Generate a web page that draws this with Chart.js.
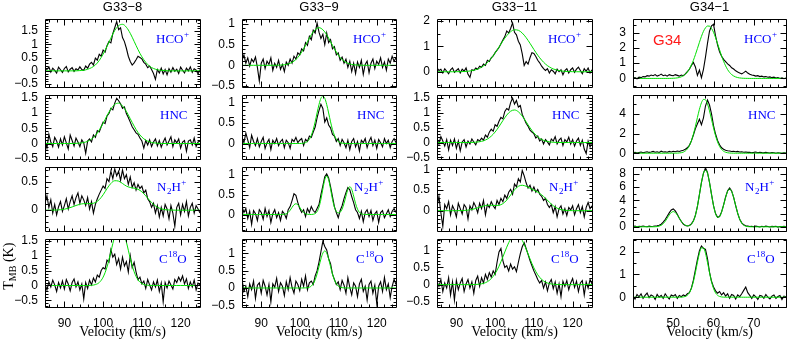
<!DOCTYPE html>
<html><head><meta charset="utf-8">
<script src="https://cdn.jsdelivr.net/npm/chart.js@4/dist/chart.umd.min.js"></script>
<style>
html,body{margin:0;padding:0;background:#fff;}
body{width:789px;height:342px;position:relative;overflow:hidden;}
canvas{position:absolute;}
</style></head><body>
<script>
// ---------------- velocity grids ----------------
const VEL_G33 = [85,85.5,86,86.5,87,87.5,88,88.5,89,89.5,90,90.5,91,91.5,92,92.5,93,93.5,94,94.5,95,95.5,96,96.5,97,97.5,98,98.5,99,99.5,100,100.5,101,101.5,102,102.5,103,103.5,104,104.5,105,105.5,106,106.5,107,107.5,108,108.5,109,109.5,110,110.5,111,111.5,112,112.5,113,113.5,114,114.5,115,115.5,116,116.5,117,117.5,118,118.5,119,119.5,120,120.5,121,121.5,122,122.5,123,123.5,124,124.5,125];
const VF_G33 = [85,86,87,88,89,90,91,92,93,94,95,96,97,98,99,100,101,102,103,104,105,106,107,108,109,110,111,112,113,114,115,116,117,118,119,120,121,122,123,124,125];
const VEL_G34 = [40,40.5,41,41.5,42,42.5,43,43.5,44,44.5,45,45.5,46,46.5,47,47.5,48,48.5,49,49.5,50,50.5,51,51.5,52,52.5,53,53.5,54,54.5,55,55.5,56,56.5,57,57.5,58,58.5,59,59.5,60,60.5,61,61.5,62,62.5,63,63.5,64,64.5,65,65.5,66,66.5,67,67.5,68,68.5,69,69.5,70,70.5,71,71.5,72,72.5,73,73.5,74,74.5,75,75.5,76,76.5,77,77.5,78];

// ---------------- tick labels ----------------
const XT_G33 = [90,100,110,120];
const XT_G34 = [50,60,70];
const YT_A = [-0.5,0,0.5,1,1.5];
const YT_B = [0,0.5];
const YT_C = [-0.5,0,0.5,1];
const YT_D = [0,0.5,1];
const YT_E = [0,1,2];
const YT_F = [0,1,2,3];
const YT_G = [0,2,4];
const YT_H = [0,2,4,6,8];

const TITLES = ['G33\u22128','G33\u22129','G33\u221211','G34\u22121'];

// ---------------- spectra (T_MB, K) ----------------
const G33_8_HCO = [0.12,0.05,0.15,-0.05,0.10,0.02,-0.08,0.14,0.04,-0.06,
 0.09,0.16,-0.04,0.06,0.12,-0.02,0.08,0.03,0.15,0.05,
 0.02,0.18,0.10,0.25,0.32,0.22,0.48,0.40,0.62,0.55,
 0.78,0.70,0.95,1.10,1.05,1.40,1.62,1.85,1.55,1.62,
 1.25,1.10,0.85,0.55,0.35,0.22,0.30,0.42,0.55,0.50,
 0.45,0.32,0.25,0.12,0.18,0.05,-0.10,-0.32,0.05,-0.08,
 0.10,-0.12,0.05,-0.15,0.08,-0.05,0.12,-0.02,0.06,-0.10,
 0.14,0.02,-0.08,0.10,0.00,0.15,-0.06,0.08,0.03,-0.12,
 0.05];
const G33_8_HNC = [0.10,-0.15,0.30,0.05,-0.10,0.20,0.08,-0.12,0.15,-0.05,
 0.22,0.02,-0.18,0.28,0.10,-0.08,0.18,0.05,-0.10,0.12,
 0.02,-0.32,0.08,0.15,0.05,0.28,0.20,0.42,0.38,0.55,
 0.70,0.65,0.90,0.98,1.15,1.10,1.32,1.48,1.40,1.30,
 1.15,1.20,0.98,0.85,0.70,0.55,0.45,0.35,0.30,0.18,
 0.08,-0.15,0.10,-0.05,0.12,-0.10,0.05,0.15,-0.08,0.10,
 -0.12,0.05,0.18,-0.05,0.08,0.22,-0.10,0.12,0.02,0.15,
 -0.15,0.05,0.10,-0.25,0.08,0.12,-0.05,0.18,-0.10,0.05,
 0.08];
const G33_8_N2H = [0.12,0.25,0.05,0.18,-0.05,0.10,-0.08,0.06,0.15,-0.02,
 0.08,0.20,0.02,0.15,0.25,0.10,0.22,0.30,0.12,0.25,
 0.18,0.08,0.22,0.02,0.15,-0.05,0.10,0.20,0.28,0.35,
 0.42,0.38,0.55,0.50,0.68,0.55,0.72,0.60,0.68,0.52,
 0.70,0.55,0.62,0.45,0.58,0.40,0.48,0.35,0.45,0.38,
 0.42,0.30,0.35,0.20,0.15,0.05,0.12,-0.05,0.08,-0.12,
 0.05,-0.10,0.10,0.02,-0.15,0.08,-0.05,-0.28,0.05,0.12,
 -0.08,0.10,-0.02,0.15,-0.10,0.05,0.12,-0.05,0.08,0.02,
 -0.05];
const G33_8_C18O = [0.05,-0.15,0.12,-0.05,0.18,0.02,-0.20,0.10,-0.08,0.15,
 -0.12,0.20,0.05,-0.18,0.10,0.22,-0.05,0.12,-0.15,0.05,
 -0.45,0.10,-0.10,0.18,0.02,0.25,0.12,0.35,0.28,0.50,
 0.60,0.55,0.85,0.78,1.20,0.95,1.05,0.70,0.90,0.55,
 0.95,0.65,0.80,0.45,1.00,0.60,0.78,0.45,0.20,0.28,
 0.05,0.15,-0.10,0.20,0.02,-0.15,0.12,-0.05,0.18,-0.20,
 0.08,-0.55,0.10,-0.08,0.15,0.02,-0.12,0.20,0.10,0.28,
 0.15,0.32,0.05,0.22,-0.10,0.12,-0.05,0.18,-0.15,0.08,
 0.02];
const G33_9_HCO = [0.12,0.25,0.05,0.18,-0.02,0.15,0.08,0.20,-0.05,-0.38,
 0.05,0.15,-0.08,0.10,0.02,0.18,-0.12,0.05,-0.05,0.12,
 -0.10,0.02,-0.15,0.08,0.00,0.15,0.05,0.22,0.15,0.30,
 0.25,0.40,0.35,0.55,0.48,0.70,0.62,0.85,0.78,1.02,
 0.80,0.65,0.75,0.50,0.78,0.55,0.62,0.40,0.45,0.25,
 0.30,0.12,0.20,0.05,0.15,-0.05,0.10,-0.15,0.05,-0.20,
 0.08,-0.05,0.12,-0.22,0.02,0.10,-0.18,0.05,0.15,-0.08,
 0.10,0.02,0.18,-0.05,0.08,-0.12,0.15,0.05,0.22,0.10,
 0.18];
const G33_9_HNC = [0.15,0.02,0.25,0.08,-0.10,0.20,0.05,-0.05,0.12,-0.08,
 0.05,0.15,-0.12,0.02,0.10,-0.15,0.08,0.00,0.12,-0.05,
 0.05,0.10,-0.10,0.08,0.02,-0.12,0.10,0.05,0.15,0.02,
 0.08,0.12,-0.05,0.10,0.05,0.18,0.15,0.28,0.40,0.62,
 0.80,0.95,0.85,0.52,0.62,0.45,0.38,0.22,0.18,0.05,
 0.12,-0.05,0.10,0.02,-0.10,0.08,-0.15,0.05,0.12,-0.08,
 0.05,-0.18,0.08,0.02,0.12,-0.10,0.05,0.15,-0.05,0.08,
 -0.12,0.10,0.02,-0.08,0.12,0.00,0.08,-0.10,0.05,0.12,
 0.02];
const G33_9_N2H = [0.20,0.05,0.15,-0.10,0.08,-0.25,0.10,0.02,-0.15,0.12,
 0.05,-0.12,0.15,-0.05,0.10,-0.20,0.02,0.12,-0.08,0.05,
 -0.15,0.08,0.02,-0.10,0.12,0.20,0.35,0.52,0.48,0.30,
 0.15,0.05,0.12,-0.05,0.15,0.05,0.20,0.10,0.05,0.15,
 0.25,0.50,0.72,0.95,1.02,0.92,0.70,0.45,0.20,0.05,
 -0.08,0.10,0.22,0.40,0.55,0.68,0.62,0.45,0.30,0.12,
 0.05,-0.10,0.08,-0.18,0.05,0.12,-0.05,0.10,-0.15,0.02,
 0.08,-0.20,0.05,0.10,-0.08,0.02,0.12,-0.05,0.08,0.15,
 0.05];
const G33_9_C18O = [0.25,-0.10,0.05,-0.25,0.12,-0.05,0.20,-0.30,0.08,0.15,
 -0.15,0.22,0.05,-0.20,0.10,-0.40,0.12,0.02,0.28,-0.10,
 0.15,0.05,-0.22,0.18,-0.05,0.30,0.02,-0.15,0.20,0.10,
 -0.08,0.25,0.05,0.35,-0.05,0.15,0.20,0.10,0.35,0.50,
 0.75,1.05,1.35,1.20,1.10,0.85,0.70,0.40,0.25,0.10,
 0.18,-0.05,0.22,0.08,-0.15,0.30,0.02,-0.20,0.15,0.05,
 -0.25,0.12,0.25,-0.10,0.05,-0.35,0.10,0.20,-0.15,0.08,
 -0.45,0.05,0.18,-0.10,0.30,-0.05,0.12,-0.28,0.05,0.25,
 0.10];
const G33_11_HCO = [0.15,0.05,0.10,-0.05,0.12,0.02,-0.08,0.08,0.15,-0.02,
 0.05,0.12,-0.05,0.10,0.02,0.15,-0.10,-0.22,0.08,0.05,
 0.15,0.10,0.22,0.18,0.30,0.25,0.45,0.40,0.55,0.62,
 0.75,0.85,0.95,1.10,1.25,1.38,1.60,1.52,1.70,1.92,
 1.55,1.45,1.20,1.05,0.70,0.25,0.40,0.30,0.55,0.75,
 0.72,0.60,0.45,0.35,0.22,0.12,0.05,0.12,-0.05,0.08,
 0.02,-0.08,0.10,0.00,0.08,-0.12,0.05,0.12,-0.05,0.08,
 0.15,-0.02,0.10,0.18,0.05,-0.08,0.12,0.02,0.15,-0.05,
 0.08];
const G33_11_HNC = [0.15,-0.05,0.20,0.05,-0.12,0.10,-0.25,0.08,-0.10,0.12,
 -0.20,0.05,-0.28,0.02,0.10,-0.15,0.05,-0.05,0.12,0.02,
 -0.08,0.10,0.05,0.15,0.08,0.25,0.18,0.35,0.45,0.38,
 0.60,0.55,0.72,0.85,0.80,1.05,1.15,1.10,1.35,1.50,
 1.30,1.42,1.20,1.25,0.95,0.80,0.65,0.55,0.42,0.35,
 0.30,0.15,0.22,0.05,0.12,-0.05,0.10,0.02,-0.08,0.12,
 0.05,0.20,-0.05,0.08,0.15,-0.10,0.10,0.02,0.18,-0.05,
 0.10,-0.12,0.05,0.15,-0.10,0.08,-0.22,-0.37,0.05,-0.15,
 0.02];
const G33_11_N2H = [0.10,0.35,-0.05,-0.38,0.15,0.05,0.22,-0.10,0.12,0.02,
 -0.15,0.18,0.05,-0.08,0.15,0.08,-0.20,0.12,0.02,0.20,
 0.10,-0.05,0.18,0.05,0.25,-0.10,0.15,0.08,0.22,0.12,
 0.05,0.25,0.15,0.30,0.22,0.38,0.30,0.45,0.52,0.40,
 0.65,0.58,0.78,0.70,0.98,0.85,0.68,0.55,0.62,0.48,
 0.58,0.45,0.52,0.40,0.35,0.25,0.30,0.15,0.08,0.15,
 -0.05,0.10,-0.15,0.05,0.12,-0.08,0.05,-0.12,0.08,0.02,
 0.12,-0.10,0.05,0.15,-0.05,0.10,-0.15,0.08,0.20,0.05,
 0.12];
const G33_11_C18O = [0.10,-0.05,0.15,-0.20,0.05,-0.10,0.20,-0.30,0.08,-0.45,
 0.12,-0.15,0.05,0.18,-0.20,0.02,0.15,-0.10,0.08,-0.25,
 0.12,0.25,-0.05,0.20,0.05,0.30,0.15,0.35,0.22,0.40,
 0.30,0.65,0.95,1.05,0.70,0.50,0.55,0.40,0.60,0.45,
 0.52,0.38,0.65,0.90,1.10,1.22,1.05,0.88,0.70,0.55,
 0.40,0.28,0.15,0.05,0.12,-0.10,0.08,-0.18,0.05,0.15,
 -0.12,0.08,-0.25,0.02,-0.35,0.10,-0.05,0.12,-0.15,0.05,
 0.18,-0.08,0.10,-0.20,0.05,0.12,-0.30,0.08,-0.10,0.15,
 0.02];
const G34_HCO = [0.02,0.05,-0.02,0.08,0.05,0.12,0.10,0.18,0.15,0.22,
 0.18,0.25,0.15,0.20,0.28,0.18,0.22,0.15,0.25,0.20,
 0.18,0.25,0.20,0.15,0.22,0.18,0.30,0.45,0.60,0.85,
 1.05,0.75,0.20,0.55,0.05,0.60,1.40,2.30,3.10,3.45,
 3.55,2.80,2.20,1.75,1.45,1.25,1.10,0.95,0.85,0.70,
 0.62,0.50,0.42,0.35,0.30,0.38,0.48,0.35,0.28,0.22,
 0.20,0.15,0.18,0.12,0.15,0.10,0.12,0.08,0.10,0.05,
 0.08,0.02,0.06,0.00,0.04,-0.02,0.03];
const G34_HNC = [0.05,0.10,0.02,0.08,0.12,0.05,0.10,0.15,0.08,0.12,
 0.18,0.10,0.15,0.08,0.20,0.12,0.15,0.10,0.18,0.12,
 0.20,0.15,0.22,0.18,0.25,0.30,0.40,0.55,0.80,1.25,
 1.85,2.50,3.00,3.45,2.90,3.60,4.80,5.40,4.90,4.00,
 2.80,1.95,1.30,0.85,0.55,0.40,0.30,0.25,0.22,0.18,
 0.20,0.15,0.18,0.12,0.15,0.10,0.12,0.08,0.10,0.05,
 0.08,0.12,0.05,0.10,0.06,0.03,0.08,0.05,0.02,0.06,
 0.04,0.00,0.05,0.02,-0.02,0.03,0.01];
const G34_N2H = [0.05,0.10,-0.02,0.08,0.03,0.12,0.05,0.02,0.10,0.06,
 0.08,0.12,0.15,0.25,0.40,0.70,1.10,1.60,2.10,2.55,
 2.70,2.40,1.90,1.30,0.80,0.40,0.20,0.12,0.20,0.45,
 0.90,1.75,3.10,4.90,6.70,8.10,8.90,8.20,6.70,4.90,
 3.20,2.00,1.45,1.55,2.25,3.30,4.50,5.45,5.85,5.40,
 4.45,3.20,2.05,1.15,0.60,0.30,0.15,0.10,0.05,0.08,
 0.02,0.10,0.05,-0.03,0.08,0.02,0.10,0.04,-0.02,0.06,
 0.03,0.08,-0.04,0.05,0.02,0.07,0.00];
const G34_C18O = [0.05,-0.08,0.12,0.02,0.15,-0.05,0.08,0.18,-0.02,0.10,
 0.05,-0.10,0.12,0.00,0.08,-0.05,0.15,0.02,-0.08,0.10,
 0.05,0.12,-0.05,0.08,0.02,0.10,0.05,0.15,0.20,0.40,
 0.75,1.20,1.65,2.05,2.25,2.15,2.10,1.70,1.10,0.70,
 0.45,0.28,0.18,0.25,0.10,0.20,0.05,0.15,-0.05,0.12,
 0.08,-0.08,0.10,0.02,0.15,0.30,0.45,0.20,0.08,-0.05,
 0.10,0.02,-0.10,0.08,0.05,-0.05,0.12,0.00,-0.08,0.05,
 0.10,-0.05,0.03,0.08,-0.10,0.05,0.02];

// ---------------- Gaussian fits (green) ----------------
const FIT_G33_8_HCO = [0,0,0,0,0,0,0,0,0,0.01,
 0.02,0.06,0.12,0.22,0.39,0.63,0.92,1.23,1.52,1.70,
 1.75,1.64,1.41,1.11,0.80,0.53,0.32,0.17,0.09,0.04,
 0.02,0.01,0,0,0,0,0,0,0,0,0];
const FIT_G33_8_HNC = [0,0,0,0,0,0,0,0,0.005,0.013,
 0.033,0.072,0.145,0.26,0.44,0.66,0.91,1.13,1.28,1.32,
 1.23,1.05,0.81,0.57,0.36,0.21,0.11,0.053,0.023,0.009,
 0,0,0,0,0,0,0,0,0,0,0];
const FIT_G33_8_N2H = [0,0,0.001,0.003,0.008,0.017,0.034,0.056,0.082,0.103,
 0.114,0.115,0.116,0.133,0.184,0.269,0.376,0.467,0.514,0.507,
 0.466,0.420,0.396,0.384,0.364,0.320,0.250,0.170,0.101,0.052,
 0.023,0.009,0.003,0.001,0,0,0,0,0,0,0];
const FIT_G33_8_C18O = [0,0,0,0,0,0,0,0,0,0,
 0,0,0.007,0.030,0.10,0.28,0.62,1.13,1.65,1.95,
 1.87,1.45,0.91,0.46,0.19,0.064,0.017,0.004,0,0,
 0,0,0,0,0,0,0,0,0,0,0];
const FIT_G33_9_HCO = [0,0,0,0,0,0,0,0,0,0.002,
 0.005,0.013,0.032,0.071,0.14,0.25,0.40,0.57,0.74,0.86,
 0.91,0.86,0.74,0.57,0.40,0.25,0.14,0.071,0.032,0.013,
 0.005,0.002,0,0,0,0,0,0,0,0,0];
const FIT_G33_9_HNC = [0,0,0,0,0,0,0,0,0,0,
 0,0,0,0,0,0,0,0,0,0,
 0,0,0,0,0,0,0,0,0,0,
 0.001,0.003,0.009,0.022,0.05,0.104,0.197,0.338,0.525,0.74,
 0.945,1.095,1.15,1.095,0.945,0.74,0.525,0.338,0.197,0.104,
 0.05,0.022,0.009,0.003,0.001,0,0,0,0,0,
 0,0,0,0,0,0,0,0,0,0,
 0,0,0,0,0,0,0,0,0,0,0];
const FIT_G33_9_N2H = [0,0,0,0,0,0,0,0,0,0,
 0,0,0,0,0,0,0,0,0,0,
 0,0.002,0.007,0.020,0.052,0.107,0.179,0.244,0.27,0.244,
 0.179,0.107,0.052,0.020,0.007,0.002,0.001,0.006,0.024,0.073,
 0.185,0.383,0.642,0.875,0.97,0.875,0.642,0.383,0.186,0.077,
 0.041,0.059,0.135,0.277,0.463,0.631,0.70,0.631,0.463,0.277,
 0.134,0.053,0.017,0.004,0.001,0,0,0,0,0,
 0,0,0,0,0,0,0,0,0,0,0];
const FIT_G33_9_C18O = [0,0,0,0,0,0,0,0,0,0,
 0,0,0,0,0,0,0,0,0,0,
 0,0,0,0,0,0,0,0,0,0,
 0,0,0.001,0.003,0.008,0.022,0.055,0.121,0.236,0.406,
 0.62,0.84,1.007,1.07,1.007,0.84,0.62,0.406,0.236,0.121,
 0.055,0.022,0.008,0.003,0.001,0,0,0,0,0,
 0,0,0,0,0,0,0,0,0,0,
 0,0,0,0,0,0,0,0,0,0,0];
const FIT_G33_11_HCO = [0,0,0,0,0.001,0.002,0.005,0.010,0.021,0.042,
 0.079,0.138,0.229,0.358,0.529,0.738,0.971,1.208,1.418,1.572,
 1.646,1.627,1.518,1.339,1.115,0.876,0.650,0.456,0.302,0.189,
 0.111,0.062,0.033,0.016,0.008,0.003,0,0,0,0,0];
const FIT_G33_11_HNC = [0,0,0,0,0,0,0,0,0.001,0.004,
 0.011,0.027,0.059,0.118,0.215,0.356,0.539,0.741,0.929,1.059,
 1.10,1.039,0.894,0.701,0.500,0.325,0.192,0.103,0.051,0.023,
 0.009,0.003,0.001,0,0,0,0,0,0,0,0];
const FIT_G33_11_N2H = [0,0,0,0,0,0.001,0.002,0.005,0.014,0.030,
 0.054,0.085,0.114,0.131,0.133,0.127,0.132,0.172,0.258,0.382,
 0.508,0.595,0.620,0.595,0.548,0.501,0.453,0.388,0.302,0.206,
 0.121,0.062,0.027,0.010,0.003,0.001,0,0,0,0,0];
const FIT_G33_11_C18O = [0,0,0,0,0,0,0,0,0,0.001,
 0.005,0.015,0.037,0.085,0.175,0.322,0.535,0.805,1.089,1.327,
 1.458,1.442,1.286,1.034,0.748,0.488,0.287,0.152,0.072,0.031,
 0.012,0.004,0,0,0,0,0,0,0,0,0];
const FIT_G34_HCO = [0,0,0,0,0,0,0,0,0,0,
 0,0,0,0,0,0,0,0,0.002,0.005,
 0.010,0.019,0.035,0.062,0.106,0.175,0.278,0.423,0.622,0.879,
 1.19,1.56,1.96,2.37,2.76,3.09,3.32,3.44,3.43,3.28,
 3.03,2.68,2.29,1.88,1.48,1.13,0.824,0.578,0.391,0.254,
 0.159,0.096,0.055,0.031,0.017,0.009,0.004,0.002,0,0,
 0,0,0,0,0,0,0,0,0,0,
 0,0,0,0,0,0,0];
const FIT_G34_HNC = [0,0,0,0,0,0,0,0,0,0,
 0,0,0,0,0,0,0,0,0,0,
 0,0.003,0.009,0.022,0.051,0.112,0.229,0.435,0.766,1.26,
 1.93,2.74,3.63,4.47,5.13,5.47,5.43,5.02,4.31,3.45,
 2.57,1.78,1.15,0.69,0.385,0.20,0.097,0.044,0.018,0.007,
 0.003,0,0,0,0,0,0,0,0,0,
 0,0,0,0,0,0,0,0,0,0,
 0,0,0,0,0,0,0];
const FIT_G34_N2H = [0,0,0,0,0,0,0,0,0,0,
 0.004,0.013,0.039,0.101,0.232,0.467,0.828,1.295,1.783,2.157,
 2.30,2.157,1.783,1.295,0.829,0.470,0.247,0.150,0.184,0.391,
 0.870,1.747,3.096,4.842,6.665,8.067,8.60,8.069,6.675,4.874,
 3.192,1.996,1.440,1.535,2.197,3.258,4.433,5.350,5.70,5.347,
 4.418,3.209,2.052,1.157,0.574,0.250,0.096,0.032,0.010,0.002,
 0,0,0,0,0,0,0,0,0,0,
 0,0,0,0,0,0,0];
const FIT_G34_C18O = [0,0,0,0,0,0,0,0,0,0,
 0,0,0,0,0,0,0,0,0,0,
 0,0,0,0.001,0.004,0.012,0.034,0.086,0.192,0.384,
 0.684,1.085,1.533,1.932,2.168,2.168,1.932,1.533,1.085,0.684,
 0.384,0.192,0.086,0.034,0.012,0.004,0,0,0,0,
 0,0,0,0,0,0,0,0,0,0,
 0,0,0,0,0,0,0,0,0,0,
 0,0,0,0,0,0,0];

// molecule labels per row: [text, kind]
const MOLECULES = [
  [['HCO','n'],['+','sup']],
  [['HNC','n']],
  [['N','n'],['2','sub'],['H','n'],['+','sup']],
  [['C','n'],['18','sup'],['O','n']]
];

// ---------------- layout ----------------
const COLS = [
  {left:45,  w:155, xmin:85, xmax:125, xt:XT_G33},
  {left:242, w:154, xmin:85, xmax:125, xt:XT_G33},
  {left:437, w:155, xmin:85, xmax:125, xt:XT_G33},
  {left:633, w:153, xmin:40, xmax:78,  xt:XT_G34}
];
const ROW_TOP = [19, 91, 163, 235];
const PH = 72, YW = 44, PADR = 6, XH = 34;
const MOL_DX = [111, 115, 112, 114];
const TICKF = "'Liberation Sans', Arial, sans-serif";
const SERIF = "'Liberation Serif', 'Times New Roman', serif";
const GREEN = '#00e000';

const PANELS = [
  {c:0,r:0,vel:VEL_G33,spec:G33_8_HCO, fv:VF_G33,fit:FIT_G33_8_HCO, y:[-0.6,1.95], yt:YT_A, maj:0.5, mn:0.1},
  {c:0,r:1,vel:VEL_G33,spec:G33_8_HNC, fv:VF_G33,fit:FIT_G33_8_HNC, y:[-0.5,1.58], yt:YT_A, maj:0.5, mn:0.1},
  {c:0,r:2,vel:VEL_G33,spec:G33_8_N2H, fv:VF_G33,fit:FIT_G33_8_N2H, y:[-0.36,0.75], yt:YT_B, maj:0.5, mn:0.1},
  {c:0,r:3,vel:VEL_G33,spec:G33_8_C18O,fv:VF_G33,fit:FIT_G33_8_C18O,y:[-0.72,1.55], yt:YT_A, maj:0.5, mn:0.1},
  {c:1,r:0,vel:VEL_G33,spec:G33_9_HCO, fv:VF_G33,fit:FIT_G33_9_HCO, y:[-0.52,1.12], yt:YT_C, maj:0.5, mn:0.1},
  {c:1,r:1,vel:VEL_G33,spec:G33_9_HNC, fv:VEL_G33,fit:FIT_G33_9_HNC, y:[-0.37,1.17], yt:YT_D, maj:0.5, mn:0.1},
  {c:1,r:2,vel:VEL_G33,spec:G33_9_N2H, fv:VEL_G33,fit:FIT_G33_9_N2H, y:[-0.41,1.19], yt:YT_D, maj:0.5, mn:0.1},
  {c:1,r:3,vel:VEL_G33,spec:G33_9_C18O,fv:VEL_G33,fit:FIT_G33_9_C18O,y:[-0.55,1.41], yt:YT_C, maj:0.5, mn:0.1},
  {c:2,r:0,vel:VEL_G33,spec:G33_11_HCO, fv:VF_G33,fit:FIT_G33_11_HCO, y:[-0.59,2.07], yt:YT_E, maj:1, mn:0.5},
  {c:2,r:1,vel:VEL_G33,spec:G33_11_HNC, fv:VF_G33,fit:FIT_G33_11_HNC, y:[-0.55,1.6],  yt:YT_A, maj:0.5, mn:0.1},
  {c:2,r:2,vel:VEL_G33,spec:G33_11_N2H, fv:VF_G33,fit:FIT_G33_11_N2H, y:[-0.49,1.06], yt:YT_D, maj:0.5, mn:0.1},
  {c:2,r:3,vel:VEL_G33,spec:G33_11_C18O,fv:VF_G33,fit:FIT_G33_11_C18O,y:[-0.65,1.32], yt:YT_C, maj:0.5, mn:0.1},
  {c:3,r:0,vel:VEL_G34,spec:G34_HCO, fv:VEL_G34,fit:FIT_G34_HCO, y:[-0.55,3.9], yt:YT_F, maj:1, mn:0.5},
  {c:3,r:1,vel:VEL_G34,spec:G34_HNC, fv:VEL_G34,fit:FIT_G34_HNC, y:[-0.57,5.9], yt:YT_G, maj:2, mn:1},
  {c:3,r:2,vel:VEL_G34,spec:G34_N2H, fv:VEL_G34,fit:FIT_G34_N2H, y:[-0.6,9.0],  yt:YT_H, maj:2, mn:1},
  {c:3,r:3,vel:VEL_G34,spec:G34_C18O,fv:VEL_G34,fit:FIT_G34_C18O,y:[-0.43,2.55], yt:YT_E, maj:1, mn:0.5}
];

function fmt(v){ return String(+(+v).toFixed(2)).replace('-', '\u2212'); }

function decoPlugin(p, col){
  return {
    id: 'deco',
    afterDraw(chart){
      const {ctx, chartArea:a, scales} = chart;
      const xs = scales.x, ys = scales.y;
      ctx.save();
      ctx.strokeStyle = '#000'; ctx.lineWidth = 1;
      const L = Math.round(a.left)+0.5, R = Math.round(a.right)+0.5;
      const T = Math.round(a.top)+0.5,  B = Math.round(a.bottom)+0.5;
      ctx.beginPath();
      ctx.rect(L, T, R-L, B-T);
      for (let n = Math.ceil(col.xmin/2); n*2 <= col.xmax; n++){
        const v = n*2, px = Math.round(xs.getPixelForValue(v))+0.5, len = (v % 10 === 0) ? 6 : 3;
        ctx.moveTo(px, T); ctx.lineTo(px, T+len);
        ctx.moveTo(px, B); ctx.lineTo(px, B-len);
      }
      for (let n = Math.ceil(p.y[0]/p.mn - 1e-9); n*p.mn <= p.y[1] + 1e-9; n++){
        const v = n*p.mn, q = v/p.maj, major = Math.abs(q-Math.round(q)) < 1e-6;
        const py = Math.round(ys.getPixelForValue(v))+0.5, len = major ? 6 : 3;
        ctx.moveTo(L, py); ctx.lineTo(L+len, py);
        ctx.moveTo(R, py); ctx.lineTo(R-len, py);
      }
      ctx.stroke();

      // molecule label
      ctx.fillStyle = '#0000ff'; ctx.textAlign = 'left'; ctx.textBaseline = 'alphabetic';
      let xx = a.left + MOL_DX[p.r]; const yb = a.top + 24;
      MOLECULES[p.r].forEach(([t,k]) => {
        if (k === 'n'){ ctx.font = '13px ' + SERIF; ctx.fillText(t, xx, yb); xx += ctx.measureText(t).width; }
        else { ctx.font = '9px ' + SERIF; ctx.fillText(t, xx+0.5, k === 'sup' ? yb-6 : yb+3); xx += ctx.measureText(t).width + 0.5; }
      });

      if (p.r === 0){
        ctx.fillStyle = '#000'; ctx.textAlign = 'center';
        ctx.font = '13px ' + TICKF;
        ctx.fillText(TITLES[p.c], (a.left+a.right)/2, a.top - 8);
      }
      if (p.r === 0 && p.c === 3){
        ctx.fillStyle = '#ff1a1a'; ctx.textAlign = 'left';
        ctx.font = '15px ' + TICKF;
        ctx.fillText('G34', a.left + 20, a.top + 26);
      }
      if (p.r === 3 && p.c === 0){
        ctx.translate(a.left - 32.5, a.top + 27);
        ctx.rotate(-Math.PI/2);
        ctx.fillStyle = '#000'; ctx.textAlign = 'left';
        const f1 = '14px ' + SERIF, f2 = '10px ' + SERIF;
        ctx.font = f1; const w1 = ctx.measureText('T').width, w3 = ctx.measureText(' (K)').width;
        ctx.font = f2; const w2 = ctx.measureText('MB').width;
        let x0 = -(w1+w2+w3)/2;
        ctx.font = f1; ctx.fillText('T', x0, 0); x0 += w1;
        ctx.font = f2; ctx.fillText('MB', x0, 3); x0 += w2;
        ctx.font = f1; ctx.fillText(' (K)', x0, 0);
      }
      ctx.restore();
    }
  };
}

PANELS.forEach(p => {
  const col = COLS[p.c], top = ROW_TOP[p.r], last = p.r === 3;
  const padT = p.r === 0 ? top : 10, padB = last ? 0 : 10;
  const W = YW + col.w + PADR, H = padT + PH + (last ? XH : padB);
  const cv = document.createElement('canvas');
  cv.width = W; cv.height = H;
  cv.style.width = W + 'px'; cv.style.height = H + 'px';
  cv.style.left = (col.left - YW) + 'px'; cv.style.top = (top - padT) + 'px';
  document.body.appendChild(cv);
  new Chart(cv, {
    type: 'line',
    data: { datasets: [
      { data: p.fv.map((v,i) => ({x:v, y:p.fit[i]})), borderColor: GREEN, borderWidth: 1,
        pointRadius: 0, cubicInterpolationMode: 'monotone', fill: false, order: 0 },
      { data: p.vel.map((v,i) => ({x:v, y:p.spec[i]})), borderColor: '#000', borderWidth: 1.1,
        pointRadius: 0, tension: 0, fill: false, order: 1 }
    ]},
    options: {
      responsive: false, animation: false, devicePixelRatio: 1, events: [],
      layout: { padding: { top: padT, right: PADR, bottom: padB, left: 0 } },
      plugins: { legend: { display: false }, tooltip: { enabled: false } },
      scales: {
        x: { type: 'linear', min: col.xmin, max: col.xmax, display: last,
             grid: { display: false, drawTicks: false }, border: { display: false },
             ticks: { autoSkip: false, maxRotation: 0, padding: 9, color: '#000', font: { family: TICKF, size: 12 } },
             afterBuildTicks: s => { s.ticks = col.xt.map(v => ({value: v})); },
             afterFit: s => { s.height = last ? XH : 0; },
             title: { display: last, text: 'Velocity (km/s)', color: '#000', font: { family: SERIF, size: 14 }, padding: 0 } },
        y: { type: 'linear', min: p.y[0], max: p.y[1],
             grid: { display: false, drawTicks: false }, border: { display: false },
             ticks: { autoSkip: false, padding: 7, color: '#000', font: { family: TICKF, size: 12 }, callback: v => fmt(v) },
             afterBuildTicks: s => { s.ticks = p.yt.map(v => ({value: v})); },
             afterFit: s => { s.width = YW; } }
      }
    },
    plugins: [decoPlugin(p, col)]
  });
});
</script>
</body></html>
